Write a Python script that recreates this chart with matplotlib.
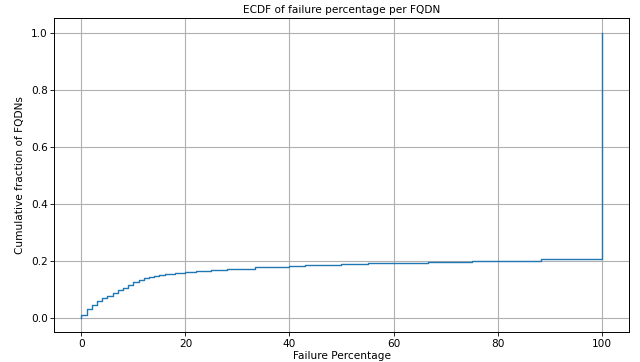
import matplotlib
matplotlib.use("Agg")
import matplotlib.pyplot as plt

# Distinct failure percentages and ECDF level reached at each
failure_pct = [0, 0, 1, 2, 3, 4, 5, 6, 7, 8, 9, 10, 11, 12, 13, 14, 15, 16, 17, 18,
               20, 22, 25, 28, 30, 33.3, 36, 40, 43, 45, 50, 55, 60, 66.7, 70, 75,
               80, 85, 88.3, 95, 100]
ecdf_level = [0.0, 0.01, 0.032, 0.047, 0.061, 0.07, 0.078, 0.087, 0.097, 0.106, 0.115,
              0.125, 0.133, 0.139, 0.145, 0.148, 0.151, 0.153, 0.155, 0.157,
              0.16, 0.163, 0.168, 0.170, 0.172, 0.1775, 0.179, 0.182, 0.184, 0.185,
              0.19, 0.1915, 0.193, 0.195, 0.196, 0.198, 0.2, 0.201, 0.206, 0.207, 1.0]

fs = 7.6
fig, ax = plt.subplots(figsize=(6.4, 3.62), dpi=100)
ax.step(failure_pct, ecdf_level, where="post", color="#1f77b4", linewidth=1.0)
ax.set_title("ECDF of failure percentage per FQDN", fontsize=fs, pad=4)
ax.set_xlabel("Failure Percentage", fontsize=fs, labelpad=2)
ax.set_ylabel("Cumulative fraction of FQDNs", fontsize=fs, labelpad=4)
ax.tick_params(labelsize=fs, length=2.6, width=0.6, pad=2.2)
for sp in ax.spines.values():
    sp.set_linewidth(0.7)
ax.grid(True, linewidth=0.8, color="#b0b0b0")
ax.set_xlim(-5.2, 105.3)
ax.set_ylim(-0.049, 1.05)
fig.subplots_adjust(left=0.085, right=0.983, top=0.949, bottom=0.083)
fig.savefig("out.png", dpi=100)
